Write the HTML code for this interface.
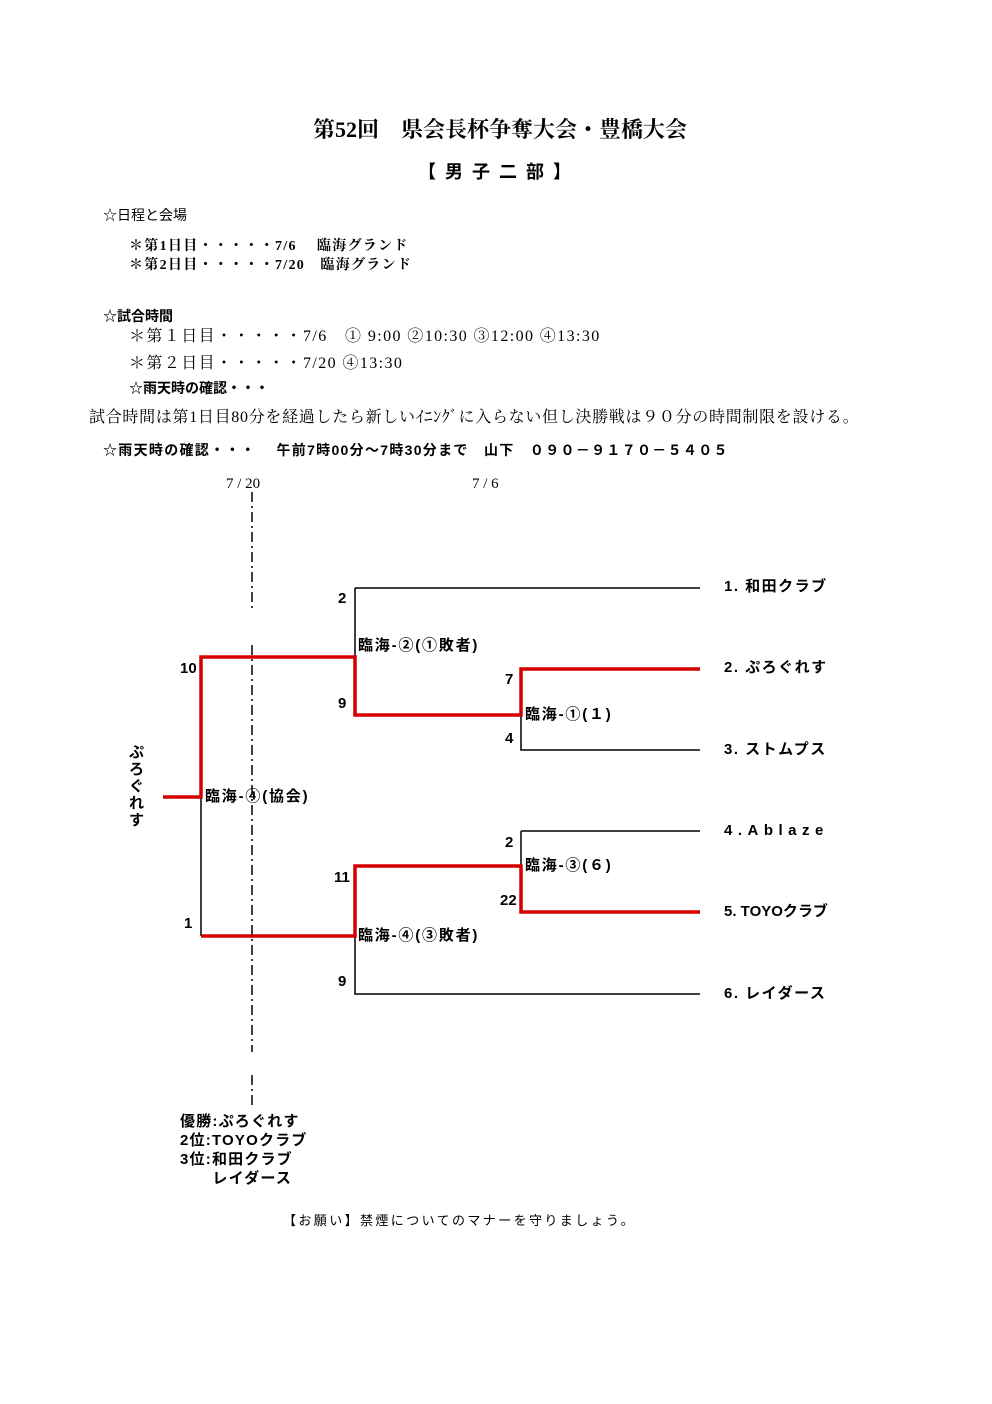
<!DOCTYPE html>
<html><head><meta charset="utf-8"><style>
body{margin:0;background:#fff;}
#p{position:relative;width:992px;height:1404px;overflow:hidden;font-family:"Liberation Sans","Noto Sans CJK JP",sans-serif;color:#000;}
.t{position:absolute;white-space:nowrap;line-height:1;}
.s{font-family:"Liberation Serif","Noto Serif CJK SC",serif;}
.b{font-weight:bold;}
.m{letter-spacing:1.8px;}
.tm{letter-spacing:1.5px;}
</style></head><body><div id="p">
<div class="t s b" style="left:313px;top:119px;font-size:22px;">第52回　県会長杯争奪大会・豊橋大会</div>
<div class="t b" style="left:418px;top:163px;font-size:18px;letter-spacing:9px;">【男子二部】</div>
<div class="t" style="left:103px;top:208px;font-size:14px;">☆日程と会場</div>
<div class="t s b" style="left:129px;top:240px;font-size:14px;letter-spacing:1.3px;">＊第1日目・・・・・7/6　 臨海グランド</div>
<div class="t s b" style="left:129px;top:259px;font-size:14px;letter-spacing:1.3px;">＊第2日目・・・・・7/20　臨海グランド</div>
<div class="t b" style="left:103px;top:309px;font-size:14px;">☆試合時間</div>
<div class="t s" style="left:129px;top:329px;font-size:16px;letter-spacing:1.4px;">＊第１日目・・・・・7/6　① 9:00 ②10:30 ③12:00 ④13:30</div>
<div class="t s" style="left:129px;top:356px;font-size:16px;letter-spacing:1.4px;">＊第２日目・・・・・7/20 ④13:30</div>
<div class="t b" style="left:129px;top:381px;font-size:14px;">☆雨天時の確認・・・</div>
<div class="t s" style="left:89px;top:410px;font-size:16px;letter-spacing:0.7px;">試合時間は第1日目80分を経過したら新しいｲﾆﾝｸﾞに入らない但し決勝戦は９０分の時間制限を設ける。</div>
<div class="t b" style="left:103px;top:443px;font-size:14px;letter-spacing:1.3px;">☆雨天時の確認・・・　 午前7時00分～7時30分まで　山下　０９０－９１７０－５４０５</div>
<div class="t s" style="left:226px;top:477px;font-size:15px;">7 / 20</div>
<div class="t s" style="left:472px;top:477px;font-size:15px;">7 / 6</div>

<svg width="992" height="1404" style="position:absolute;left:0;top:0">
<g stroke="#000" stroke-width="1.5" fill="none">
<path d="M355 588H700M355 588V657M355 936V994H700M521 715V750H700M521 831H700M521 831V866M201 797V936"/>
<path d="M252 492V612M252 645V1052M252 1075V1105" stroke-dasharray="10,4,2,4"/>
</g>
<g stroke="#d40000" stroke-width="3.5" fill="none" stroke-linejoin="miter">
<path d="M700 669H521V715H355V657H201V797H163"/>
<path d="M700 912H521V866H355V936H201"/>
</g>
</svg>

<div class="t b tm" style="left:724px;top:579px;font-size:15px;">1. 和田クラブ</div>
<div class="t b tm" style="left:724px;top:660px;font-size:15px;">2. ぷろぐれす</div>
<div class="t b tm" style="left:724px;top:742px;font-size:15px;">3. ストムプス</div>
<div class="t b" style="left:724px;top:823px;font-size:15px;letter-spacing:5.5px;">4.Ablaze</div>
<div class="t b" style="left:724px;top:904px;font-size:15px;">5. TOYOクラブ</div>
<div class="t b tm" style="left:724px;top:986px;font-size:15px;">6. レイダース</div>

<div class="t b m" style="left:358px;top:638px;font-size:15px;">臨海-②(①敗者)</div>
<div class="t b m" style="left:525px;top:707px;font-size:15px;">臨海-①(１)</div>
<div class="t b m" style="left:205px;top:789px;font-size:15px;">臨海-④(協会)</div>
<div class="t b m" style="left:525px;top:858px;font-size:15px;">臨海-③(６)</div>
<div class="t b m" style="left:358px;top:928px;font-size:15px;">臨海-④(③敗者)</div>

<div class="t b" style="left:338px;top:591px;font-size:15px;">2</div>
<div class="t b" style="left:338px;top:696px;font-size:15px;">9</div>
<div class="t b" style="left:505px;top:672px;font-size:15px;">7</div>
<div class="t b" style="left:505px;top:731px;font-size:15px;">4</div>
<div class="t b" style="left:180px;top:661px;font-size:15px;">10</div>
<div class="t b" style="left:184px;top:916px;font-size:15px;">1</div>
<div class="t b" style="left:505px;top:835px;font-size:15px;">2</div>
<div class="t b" style="left:500px;top:893px;font-size:15px;">22</div>
<div class="t b" style="left:334px;top:870px;font-size:15px;">11</div>
<div class="t b" style="left:338px;top:974px;font-size:15px;">9</div>

<div class="t b" style="left:129px;top:744px;font-size:15px;width:16px;line-height:17px;white-space:normal;">ぷろぐれす</div>

<div class="t b" style="left:180px;top:1112px;font-size:15px;line-height:19px;letter-spacing:1.2px;">優勝:ぷろぐれす<br>2位:TOYOクラブ<br>3位:和田クラブ<br>　　レイダース</div>
<div class="t" style="left:283px;top:1214px;font-size:13px;letter-spacing:2.4px;">【お願い】禁煙についてのマナーを守りましょう。</div>
</div></body></html>
